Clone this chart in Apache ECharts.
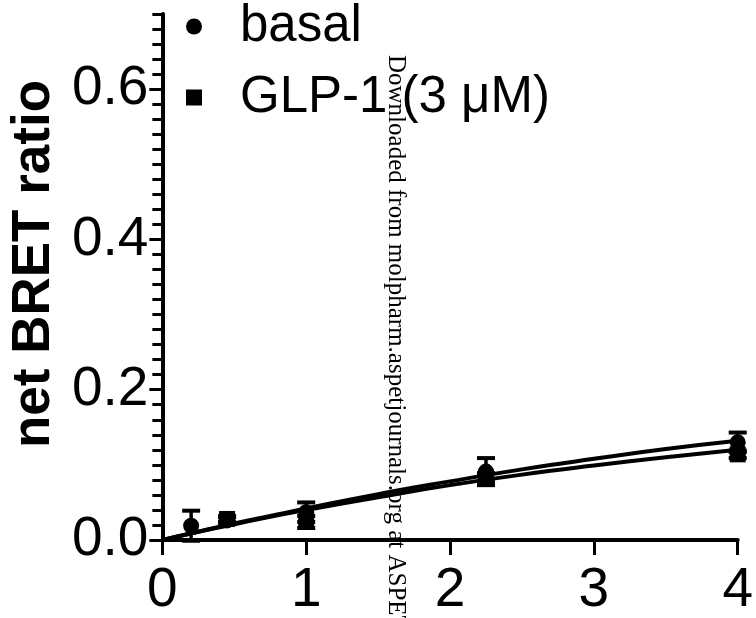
<!DOCTYPE html>
<html>
<head>
<meta charset="utf-8">
<script src="https://cdn.jsdelivr.net/npm/echarts@6/dist/echarts.min.js"></script>
<style>
  html, body { margin: 0; padding: 0; background: #fff; }
  #chart { width: 756px; height: 618px; }
</style>
</head>
<body>
<div id="chart"></div>
<script type="text/javascript">
// measured points (x, mean, SEM)
var basalX = [0.2, 0.45, 1, 2.25, 4];
var basalY = [0.019, 0.026, 0.037, 0.091, 0.130];
var basalErr = [0.020, 0.004, 0.013, 0.018, 0.013];
var glpX = [0.45, 1, 2.25, 4];
var glpY = [0.028, 0.024, 0.083, 0.114];
var glpErr = [0.004, 0.008, 0.006, 0.005];
// fitted curves
var fitX = [0, 0.25, 0.5, 0.75, 1, 1.5, 2, 2.5, 3, 3.5, 4];
var basalFit = [0, 0.011, 0.022, 0.032, 0.042, 0.061, 0.078, 0.094, 0.108, 0.121, 0.132];
var glpFit = [0, 0.011, 0.021, 0.031, 0.040, 0.057, 0.073, 0.087, 0.099, 0.110, 0.120];
var xTicks = [0, 1, 2, 3, 4];
var yTicks = [0, 0.2, 0.4, 0.6];

function pairs(xs, ys) {
    var out = [];
    for (var i = 0; i < xs.length; i++) out.push([xs[i], ys[i]]);
    return out;
}
function errRows(xs, ys, es) {
    var out = [];
    for (var i = 0; i < xs.length; i++) out.push([xs[i], ys[i] - es[i], ys[i] + es[i]]);
    return out;
}
function errorBar(params, api) {
    var lo = api.coord([api.value(0), api.value(1)]);
    var hi = api.coord([api.value(0), api.value(2)]);
    var w = 9;
    var st = { stroke: '#000', lineWidth: 3.5 };
    var cap = { stroke: '#000', lineWidth: 4 };
    return {
        type: 'group',
        children: [
            { type: 'line', shape: { x1: hi[0], y1: hi[1], x2: lo[0], y2: lo[1] }, style: st },
            { type: 'line', shape: { x1: hi[0] - w, y1: hi[1], x2: hi[0] + w, y2: hi[1] }, style: cap },
            { type: 'line', shape: { x1: lo[0] - w, y1: lo[1], x2: lo[0] + w, y2: lo[1] }, style: cap }
        ]
    };
}

var myChart = echarts.init(document.getElementById('chart'));
var font = 'Liberation Sans, Arial, sans-serif';
var option = {
    backgroundColor: '#fff',
    animation: false,
    grid: { left: 161, right: 15, top: 14, bottom: 73 },
    legend: {
        orient: 'vertical',
        left: 181,
        top: -4,
        itemWidth: 16,
        itemHeight: 16,
        itemGap: 20,
        itemStyle: { color: '#000', opacity: 1 },
        data: [
            { name: 'basal', icon: 'circle' },
            { name: 'GLP-1 (3 μM)', icon: 'rect' }
        ],
        textStyle: {
            fontFamily: font,
            fontSize: 51,
            color: '#000',
            lineHeight: 46,
            padding: [0, 0, 0, 33]
        }
    },
    xAxis: {
        type: 'value',
        min: 0,
        max: 4,
        interval: 1,
        splitLine: { show: false },
        axisLine: { lineStyle: { color: '#000', width: 4 } },
        axisTick: { length: 15, lineStyle: { color: '#000', width: 3 } },
        axisLabel: {
            fontFamily: font, fontSize: 55, color: '#000', margin: 23,
            formatter: function (v) { return xTicks.indexOf(v) >= 0 ? String(v) : ''; }
        }
    },
    yAxis: [{
        type: 'value',
        position: 'left',
        min: 0,
        max: 0.7,
        interval: 0.2,
        name: 'net BRET ratio',
        nameLocation: 'middle',
        nameGap: 83,
        nameTextStyle: {
            fontFamily: font, fontSize: 53, fontWeight: 'bold', color: '#000',
            padding: [0, 0, 0, 26]
        },
        splitLine: { show: false },
        axisLine: { lineStyle: { color: '#000', width: 4 } },
        axisTick: { length: 13, lineStyle: { color: '#000', width: 3 } },
        axisLabel: {
            fontFamily: font, fontSize: 55, color: '#000', margin: 14, showMaxLabel: false,
            formatter: function (v) {
                for (var i = 0; i < yTicks.length; i++) {
                    if (Math.abs(v - yTicks[i]) < 1e-6) return yTicks[i].toFixed(1);
                }
                return '';
            }
        }
    }, {
        type: 'value',
        position: 'left',
        min: 0,
        max: 0.7,
        interval: 0.02,
        splitLine: { show: false },
        axisLine: { show: false },
        axisTick: { length: 10, lineStyle: { color: '#000', width: 3 } },
        axisLabel: { show: false }
    }],
    series: [
        {
            name: 'basal fit', type: 'line', smooth: true, showSymbol: false,
            data: pairs(fitX, basalFit), lineStyle: { color: '#000', width: 4 }, z: 2
        },
        {
            name: 'GLP fit', type: 'line', smooth: true, showSymbol: false,
            data: pairs(fitX, glpFit), lineStyle: { color: '#000', width: 4 }, z: 2
        },
        {
            name: 'basal err', type: 'custom', renderItem: errorBar,
            data: errRows(basalX, basalY, basalErr), z: 3
        },
        {
            name: 'glp err', type: 'custom', renderItem: errorBar,
            data: errRows(glpX, glpY, glpErr), z: 3
        },
        {
            name: 'basal', type: 'scatter', symbol: 'circle', symbolSize: 16,
            itemStyle: { color: '#000', opacity: 1 }, data: pairs(basalX, basalY), z: 4
        },
        {
            name: 'GLP-1 (3 μM)', type: 'scatter', symbol: 'rect', symbolSize: 16,
            itemStyle: { color: '#000', opacity: 1 }, data: pairs(glpX, glpY), z: 5
        }
    ],
    graphic: [{
        type: 'text',
        x: 396,
        y: 55,
        rotation: -Math.PI / 2,
        z: 100,
        style: {
            text: 'Downloaded from molpharm.aspetjournals.org at ASPET Journals on',
            x: 0, y: 0,
            align: 'left',
            verticalAlign: 'middle',
            font: '25px "Liberation Serif", "Times New Roman", serif',
            fill: '#000'
        }
    }]
};
myChart.setOption(option);
</script>
</body>
</html>
